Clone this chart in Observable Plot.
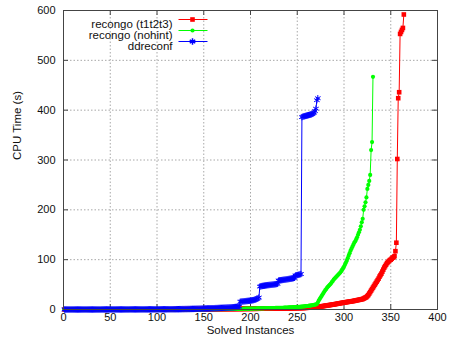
<!DOCTYPE html>
<html><head><meta charset="utf-8">
<script src="https://cdn.jsdelivr.net/npm/d3@7"></script>
<script src="https://cdn.jsdelivr.net/npm/@observablehq/plot@0.6"></script>
<style>body{margin:0;background:#fff}</style>
</head><body><div id="chart"></div>
<script>
const seriesNames = ["recongo (t1t2t3)", "recongo (nohint)", "ddreconf"];
const seriesColors = ["#ff0000", "#00ff00", "#0000ff"];
const seriesSymbols = ["square", "circle", "asterisk"];
const xTicks = [0, 50, 100, 150, 200, 250, 300, 350, 400];
const yTicks = [0, 100, 200, 300, 400, 500, 600];
const xLabel = "Solved Instances";
const yLabel = "CPU Time (s)";

const t1t2t3 = [
0,0,0,0,0,0,0,0,0,0,0,0,0,0,0,0,0,0,0,0,
0,0,0,0,0,0,0,0,0,0,0.1,0.1,0.1,0.1,0.1,0.1,0.1,0.1,0.1,0.1,
0.1,0.1,0.1,0.1,0.1,0.1,0.1,0.1,0.1,0.1,0.1,0.1,0.1,0.1,0.1,0.1,0.1,0.1,0.1,0.1,
0.1,0.1,0.1,0.1,0.1,0.2,0.2,0.2,0.2,0.2,0.2,0.2,0.2,0.2,0.2,0.2,0.2,0.2,0.2,0.2,
0.2,0.2,0.2,0.2,0.2,0.2,0.2,0.3,0.3,0.3,0.3,0.3,0.3,0.3,0.3,0.3,0.3,0.3,0.3,0.3,
0.3,0.3,0.3,0.4,0.4,0.4,0.4,0.4,0.4,0.4,0.4,0.4,0.4,0.4,0.4,0.5,0.5,0.5,0.5,0.5,
0.5,0.5,0.5,0.5,0.5,0.5,0.5,0.6,0.6,0.6,0.6,0.6,0.6,0.6,0.6,0.6,0.6,0.7,0.7,0.7,
0.7,0.7,0.7,0.7,0.7,0.7,0.7,0.8,0.8,0.8,0.8,0.8,0.8,0.8,0.8,0.8,0.9,0.9,0.9,0.9,
0.9,0.9,0.9,0.9,0.9,1,1,1,1,1,1,1,1,1,1,1,1.1,1.1,1.1,1.1,
1.1,1.1,1.1,1.1,1.1,1.2,1.2,1.2,1.2,1.2,1.2,1.2,1.3,1.3,1.3,1.3,1.3,1.3,1.4,1.4,
1.4,1.4,1.4,1.4,1.5,1.5,1.5,1.5,1.5,1.6,1.6,1.6,1.6,1.6,1.7,1.7,1.7,1.7,1.8,1.8,
1.8,1.8,1.9,1.9,1.9,1.9,2,2,2,2,2.1,2.1,2.1,2.2,2.2,2.2,2.3,2.3,2.3,2.4,
2.4,2.4,2.5,2.5,2.6,2.6,2.7,2.7,2.8,2.8,2.9,2.9,3,3,3.1,3.1,3.2,3.3,3.3,3.4,
3.5,3.6,3.7,3.8,3.9,4,4.1,4.2,4.4,4.5,4.8,5.1,5.4,5.7,6,6.3,6.6,6.9,7.2,7.5,
7.8,8.1,8.4,8.7,9,9.3,9.6,9.9,10.2,10.5,10.9,11.2,11.6,11.9,12.3,12.6,13,13.3,13.6,14,
14.3,14.6,14.9,15.2,15.5,15.8,16.1,16.4,16.7,17,17.4,17.8,18.2,18.6,19,19.4,19.8,20.2,20.6,21,
22,23,24,25,27,29,32,35,38,41,44,47,50,53,56,59,62,66,69,72,
76,80,84,87,90,93,95,97,99,100,102,104,105,107,117,134,302,424,436,553,557,561,565,592
];

const nohint = [
0,0,0,0,0,0,0,0,0,0,0,0,0,0,0,0,0,0,0,0,
0,0,0,0,0,0,0,0,0,0,0,0,0,0,0,0,0,0,0,0,
0.1,0.1,0.1,0.1,0.1,0.1,0.1,0.1,0.1,0.1,0.1,0.1,0.1,0.1,0.1,0.1,0.1,0.1,0.1,0.1,
0.1,0.1,0.1,0.1,0.1,0.1,0.1,0.1,0.1,0.1,0.2,0.2,0.2,0.2,0.2,0.2,0.2,0.2,0.2,0.2,
0.2,0.2,0.2,0.2,0.2,0.2,0.2,0.2,0.2,0.2,0.2,0.2,0.2,0.2,0.2,0.2,0.2,0.2,0.2,0.2,
0.3,0.3,0.3,0.3,0.3,0.3,0.3,0.3,0.3,0.3,0.3,0.3,0.3,0.3,0.3,0.3,0.3,0.3,0.3,0.3,
0.3,0.3,0.3,0.3,0.3,0.3,0.3,0.3,0.3,0.3,0.4,0.4,0.4,0.4,0.4,0.4,0.4,0.4,0.4,0.4,
0.4,0.4,0.4,0.4,0.4,0.4,0.4,0.4,0.4,0.4,0.5,0.5,0.5,0.5,0.5,0.5,0.5,0.5,0.5,0.5,
0.6,0.6,0.6,0.7,0.7,0.7,0.7,0.8,0.8,0.8,0.8,0.9,0.9,0.9,1,1,1,1,1.1,1.1,
1.1,1.2,1.2,1.2,1.3,1.3,1.3,1.4,1.4,1.4,1.5,1.5,1.5,1.6,1.6,1.6,1.7,1.7,1.7,1.8,
1.8,1.9,1.9,2,2,2,2.1,2.1,2.2,2.2,2.3,2.3,2.4,2.4,2.5,2.5,2.6,2.6,2.7,2.7,
2.8,2.8,2.9,2.9,3,3,3.1,3.1,3.2,3.2,3.3,3.3,3.4,3.5,3.5,3.6,3.7,3.8,3.9,4,
4.1,4.2,4.3,4.4,4.5,4.6,4.7,4.8,4.9,5,5.1,5.3,5.4,5.6,5.8,6,6.2,6.4,6.6,6.8,
7,7.3,7.6,7.9,8.2,8.5,8.8,9.2,9.6,10,11,14,18,21,24,27,30,33,36,39,
41,44,46,48,50,52,55,57,60,62,64,66,68,70,72,74,77,80,83,86,
90,94,98,103,108,113,118,122,126,130,134,137,141,145,150,155,160,167,175,182,
200,207,215,225,242,250,258,270,320,336,467
];

const ddreconf = [
0,0,0,0,0,0,0,0,0,0,0,0,0,0,0,0,0,0,0,0,
0,0,0,0,0,0,0,0,0,0,0,0,0,0,0,0,0,0,0,0,
0.1,0.1,0.1,0.1,0.1,0.1,0.1,0.1,0.1,0.1,0.1,0.1,0.1,0.1,0.1,0.1,0.1,0.1,0.1,0.1,
0.1,0.1,0.1,0.1,0.1,0.1,0.1,0.1,0.1,0.1,0.2,0.2,0.2,0.2,0.2,0.2,0.2,0.2,0.2,0.2,
0.2,0.2,0.2,0.2,0.2,0.2,0.2,0.2,0.2,0.2,0.3,0.3,0.3,0.3,0.3,0.3,0.3,0.3,0.3,0.3,
0.4,0.4,0.4,0.4,0.4,0.4,0.4,0.4,0.4,0.4,0.5,0.5,0.5,0.5,0.5,0.5,0.5,0.5,0.5,0.5,
0.6,0.6,0.6,0.7,0.7,0.7,0.8,0.8,0.8,0.9,0.9,0.9,1,1,1,1.1,1.1,1.2,1.2,1.3,
1.3,1.4,1.4,1.5,1.5,1.6,1.6,1.7,1.8,1.8,1.9,2,2,2.1,2.2,2.2,2.3,2.4,2.5,2.5,
2.6,2.7,2.8,2.8,2.9,3,3.1,3.2,3.2,3.3,3.4,3.5,3.6,3.7,3.8,3.9,4,4.1,4.2,4.3,
4.5,4.6,4.8,5,5.2,5.4,5.6,5.9,15.5,15.8,16,16.2,16.4,16.6,16.8,17,17.2,17.4,17.6,17.9,
18.2,18.5,18.8,19.3,19.8,20.5,21.5,22.5,24,46,46.5,47,47.3,47.6,47.9,48.2,48.5,48.8,49,49.2,
49.4,49.6,49.8,50,50.2,50.5,50.8,51.2,51.8,58,58.3,58.6,58.9,59.2,59.5,59.8,60,60.3,60.6,60.9,
61.2,61.5,61.8,62.1,62.5,63,63.6,68,68.5,69,69.5,70,70.5,71.2,386,387,387.5,388,388.5,389,
389.5,390,390.5,391,391.5,392.5,393.5,395,398,403,420,424
];

const seriesValues = [t1t2t3, nohint, ddreconf];

const W = 457, H = 343;
const mL = 63, mR = 20, mT = 10, mB = 34;
const plotW = W - mL - mR, plotH = H - mT - mB;
const font = "'Liberation Sans', Arial, Helvetica, sans-serif";
const frameColor = "#444";

const seriesMarks = [];
seriesValues.forEach((vals, k) => {
  const rows = vals.map((v, i) => ({x: i + 1, y: v}));
  const color = seriesColors[k];
  seriesMarks.push(Plot.line(rows, {x: "x", y: "y", stroke: color, strokeWidth: 1}));
  if (seriesSymbols[k] === "asterisk") {
    seriesMarks.push(Plot.dot(rows, {x: "x", y: "y", symbol: "asterisk", stroke: color, strokeWidth: 1, r: 3}));
  } else if (seriesSymbols[k] === "square") {
    seriesMarks.push(Plot.dot(rows, {x: "x", y: "y", symbol: "square", fill: color, stroke: null, r: 2.6}));
  } else {
    seriesMarks.push(Plot.dot(rows, {x: "x", y: "y", symbol: "circle", fill: color, stroke: null, r: 2.1}));
  }
});

const legendMarks = [];
const legendRows = [9, 20, 31];
seriesNames.forEach((name, k) => {
  const dy = legendRows[k];
  const color = seriesColors[k];
  legendMarks.push(Plot.text([name], {frameAnchor: "top-left", dx: 109, dy, text: d => d, textAnchor: "end", fill: "#111", fontSize: 11.5}));
  legendMarks.push(Plot.frame({fill: color, stroke: "none", insetLeft: 115, insetRight: plotW - 144, insetTop: dy - 0.5, insetBottom: plotH - dy - 0.5}));
  if (seriesSymbols[k] === "asterisk") {
    legendMarks.push(Plot.dot([0], {frameAnchor: "top-left", dx: 129, dy, symbol: "asterisk", stroke: color, r: 3}));
  } else if (seriesSymbols[k] === "square") {
    legendMarks.push(Plot.dot([0], {frameAnchor: "top-left", dx: 129, dy, symbol: "square", fill: color, stroke: null, r: 2.6}));
  } else {
    legendMarks.push(Plot.dot([0], {frameAnchor: "top-left", dx: 129, dy, symbol: "circle", fill: color, stroke: null, r: 2.1}));
  }
});

const chart = Plot.plot({
  width: W, height: H,
  marginLeft: mL, marginRight: mR, marginTop: mT, marginBottom: mB,
  style: {fontFamily: font, fontSize: "11px", background: "#fff", color: "#111"},
  x: {domain: [0, 400]},
  y: {domain: [0, 600]},
  marks: [
    Plot.gridX(xTicks.slice(1, -1), {stroke: "#a8a8a8", strokeOpacity: 1, strokeDasharray: "1.5,2"}),
    Plot.gridY(yTicks.slice(1, -1), {stroke: "#a8a8a8", strokeOpacity: 1, strokeDasharray: "1.5,2"}),
    Plot.axisX(xTicks, {tickSize: 0, tickPadding: 4, label: null, fill: "#111"}),
    Plot.axisY(yTicks, {tickSize: 0, tickPadding: 8, label: null, fill: "#111"}),
    Plot.ruleX(xTicks, {x: d => d, insetTop: plotH - 5, stroke: frameColor}),
    Plot.ruleX(xTicks, {x: d => d, insetBottom: plotH - 5, stroke: frameColor}),
    Plot.ruleY(yTicks, {y: d => d, insetRight: plotW - 5, stroke: frameColor}),
    Plot.ruleY(yTicks, {y: d => d, insetLeft: plotW - 5, stroke: frameColor}),
    ...seriesMarks,
    Plot.frame({stroke: frameColor, strokeWidth: 1}),
    Plot.text([xLabel], {frameAnchor: "bottom", dy: 24.5, text: d => d, fontSize: 11.5, fill: "#111"}),
    Plot.text([yLabel], {frameAnchor: "left", dx: -46, rotate: -90, text: d => d, fontSize: 11.5, fill: "#111"}),
    ...legendMarks
  ]
});
document.getElementById("chart").appendChild(chart);
</script>
</body></html>
